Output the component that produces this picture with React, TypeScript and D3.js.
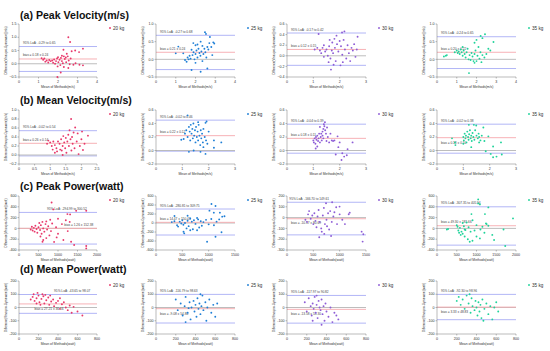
import * as d3 from "d3";

const LOADS = ["20 kg", "25 kg", "30 kg", "35 kg"];
const COLORS = ["#e8386b", "#1f7fd6", "#8d5cd6", "#1fd39a"];
const ROW_TITLES = [
  "(a) Peak Velocity(m/s)",
  "(b) Mean Velocity(m/s)",
  "(c) Peak Power(watt)",
  "(d) Mean Power(watt)",
];
const UNITS = ["m/s", "m/s", "watt", "watt"];

// x / y ticks per row, per load
const X_TICKS = [
  [[0, 1, 2, 3, 4], [0, 1, 2, 3, 4], [0, 1, 2, 3], [0, 1, 2, 3, 4]],
  [[0, 0.5, 1, 1.5, 2, 2.5], [0, 1, 2, 3], [0, 1, 2, 3], [0, 1, 2, 3]],
  [[0, 500, 1000, 1500, 2000], [0, 500, 1000, 1500], [0, 500, 1000, 1500], [0, 500, 1000, 1500, 2000]],
  [[0, 200, 400, 600, 800], [0, 200, 400, 600, 800], [0, 200, 400, 600, 800], [0, 200, 400, 600, 800]],
];
const Y_TICKS = [
  [[-0.5, 0, 0.5, 1, 1.5], [-0.5, 0, 0.5, 1], [-0.4, -0.2, 0, 0.2, 0.4, 0.6], [-0.5, 0, 0.5, 1]],
  [[-0.2, 0, 0.2, 0.4, 0.6, 0.8, 1], [-0.2, 0, 0.2, 0.4, 0.6], [-0.2, 0, 0.2, 0.4, 0.6], [-0.2, 0, 0.2, 0.4, 0.6]],
  [[-400, -200, 0, 200, 400, 600], [-600, -400, -200, 0, 200, 400, 600], [-300, -200, -100, 0, 100, 200], [-400, -200, 0, 200, 400, 600]],
  [[-200, -100, 0, 100, 200], [-200, -100, 0, 100, 200], [-200, -100, 0, 100, 200], [-200, -100, 0, 100, 200]],
];

const UPPER = [
  [0.65, 0.68, 0.43, 0.64],
  [0.54, 0.45, 0.39, 0.39],
  [296, 311, 142, 400],
  [98, 99, 91, 99],
];
const BIAS = [
  [0.18, 0.2, 0.12, 0.2],
  [0.26, 0.22, 0.18, 0.19],
  [1.26, 15, -10.57, 49.3],
  [27, -9, -14, 3],
];
const LOWER = [
  [-0.29, -0.29, -0.18, -0.26],
  [-0.02, -0.01, -0.04, -0.04],
  [-290, -267, -160, -310],
  [-44, -117, -118, -92],
];
const LOA_TEXT = [
  ["95% LoA: -0.29 to 0.65", "95% LoA: -0.27 to 0.68", "95% LoA: -0.17 to 0.42", "95% LoA: -0.24 to 0.65"],
  ["95% LoA: -0.02 to 0.54", "95% LoA: -0.02 to 0.46", "95% LoA: -0.04 to 0.39", "95% LoA: -0.02 to 0.38"],
  ["95% LoA: -294.99 to 300.52", "95% LoA: -280.81 to 309.75", "95% LoA: -166.70 to 149.61", "95% LoA: -307.35 to 405.94"],
  ["95% LoA: -43.65 to 98.07", "95% LoA: -116.79 to 98.63", "95% LoA: -117.97 to 90.82", "95% LoA: -92.30 to 98.96"],
];
const BIAS_TEXT = [
  ["bias = 0.18 ± 0.24", "bias = 0.21 ± 0.24", "bias = 0.12 ± 0.15", "bias = 0.20 ± 0.22"],
  ["bias = 0.26 ± 0.14", "bias = 0.22 ± 0.12", "bias = 0.18 ± 0.11", "bias = 0.18 ± 0.10"],
  ["bias = 1.26 ± 152.38", "bias = 14.47 ± 150.41", "bias = -10.57 ± 80.69", "bias = 49.30 ± 181.66"],
  ["bias = 27.21 ± 36.16", "bias = -9.08 ± 54.80", "bias = -13.58 ± 53.30", "bias = 3.33 ± 48.83"],
];

// [mean of methods, difference]
const A1 = [[2.53,1.0],[2.62,0.82],[2.28,0.53],[2.7,0.47],[2.88,0.5],[3.28,0.57],[3.08,0.44],[2.45,0.38],[2.2,0.3],[1.16,0.21],[1.24,0.15],[1.3,0.2],[1.35,0.08],[1.42,0.12],[1.5,0.05],[1.55,0.14],[1.62,0.1],[1.7,0.12],[1.75,0.04],[1.8,0.16],[1.85,0.0],[1.9,0.1],[1.95,0.2],[2.0,0.25],[2.02,0.06],[2.08,0.15],[2.12,-0.05],[2.15,0.22],[2.2,0.1],[2.25,0.02],[2.3,0.28],[2.35,0.18],[2.4,0.24],[2.42,0.06],[2.5,0.28],[2.55,0.12],[2.6,-0.02],[2.14,-0.33],[2.53,-0.16],[2.79,-0.04],[3.1,-0.04],[3.28,-0.06],[1.97,-0.5],[2.65,0.2],[2.9,0.02],[1.98,-0.1],[2.3,-0.12]];
const A2 = [[2.48,0.77],[2.53,0.72],[2.73,0.63],[2.9,0.48],[2.7,0.46],[2.26,0.5],[1.89,0.46],[2.0,0.4],[2.1,0.42],[2.35,0.38],[2.6,0.35],[2.8,0.35],[2.45,0.3],[1.8,0.27],[1.13,0.36],[1.0,0.17],[1.38,0.17],[1.47,-0.02],[1.55,-0.07],[1.6,0.05],[1.7,0.1],[1.75,0.02],[1.85,0.12],[1.9,0.2],[1.95,0.0],[2.0,0.15],[2.05,0.25],[2.1,0.05],[2.15,0.3],[2.2,0.18],[2.25,0.1],[2.3,0.22],[2.35,-0.05],[2.4,0.15],[2.5,0.2],[2.55,0.05],[2.65,0.28],[2.85,0.12],[2.95,0.45],[1.8,-0.3],[2.26,-0.35],[2.6,-0.26],[2.0,-0.1],[1.65,0.0]];
const A3 = [[1.2,0.41],[2.09,0.44],[2.18,0.46],[2.68,0.36],[1.67,-0.26],[1.77,-0.17],[2.03,-0.18],[1.05,0.12],[1.15,0.15],[1.25,0.1],[1.3,0.05],[1.35,0.15],[1.4,0.2],[1.45,0.08],[1.5,0.12],[1.55,0.0],[1.6,0.18],[1.62,0.3],[1.65,-0.05],[1.7,0.1],[1.72,0.25],[1.75,0.05],[1.8,0.32],[1.82,0.15],[1.85,-0.1],[1.9,0.22],[1.95,0.08],[2.0,0.28],[2.05,0.18],[2.1,0.02],[2.15,0.3],[2.2,0.12],[2.25,-0.05],[2.3,0.2],[2.35,0.05],[2.4,-0.1],[2.45,0.15],[2.5,0.1],[2.55,0.22],[2.6,-0.02],[2.65,0.12],[1.4,-0.02],[1.58,-0.12],[1.88,0.38],[2.12,-0.12]];
const A4 = [[2.43,0.71],[2.21,0.66],[2.3,0.6],[1.9,0.47],[2.86,0.49],[2.6,0.3],[0.35,0.08],[0.45,0.1],[0.5,0.12],[0.9,0.2],[1.0,0.25],[1.05,0.18],[1.1,0.22],[1.15,0.15],[1.2,0.28],[1.25,0.2],[1.3,0.1],[1.35,0.25],[1.4,0.15],[1.45,0.05],[1.5,0.2],[1.55,0.3],[1.6,0.0],[1.65,0.12],[1.7,-0.02],[1.75,0.18],[1.8,0.08],[1.85,-0.05],[1.9,0.15],[1.95,0.25],[2.0,-0.05],[2.05,0.1],[2.1,0.35],[2.15,0.02],[2.2,0.2],[2.25,-0.08],[2.3,0.12],[2.4,0.05],[2.5,0.15],[2.7,0.25],[1.62,-0.39],[1.9,-0.1],[2.0,0.55],[1.3,0.35]];

const B1 = [[1.67,0.8],[1.8,0.61],[2.02,0.52],[2.21,0.43],[0.94,0.32],[0.9,0.25],[1.0,0.28],[1.05,0.2],[1.08,0.12],[1.1,0.3],[1.15,0.22],[1.2,0.15],[1.22,0.08],[1.25,0.3],[1.3,0.25],[1.32,0.12],[1.35,0.35],[1.37,0.1],[1.4,0.2],[1.42,0.42],[1.45,0.28],[1.48,0.15],[1.5,0.38],[1.52,0.05],[1.55,0.3],[1.58,0.45],[1.6,0.2],[1.62,0.55],[1.65,0.35],[1.68,0.1],[1.7,0.4],[1.72,0.25],[1.75,0.5],[1.78,0.15],[1.85,0.3],[1.91,0.02],[1.95,0.2],[2.05,0.11],[2.0,0.35],[1.88,0.48],[1.4,0.0],[1.15,0.05],[2.1,0.25]];
const B2 = [[1.2,0.52],[1.92,0.43],[1.88,0.41],[0.96,0.16],[1.05,0.17],[1.43,0.0],[1.69,-0.02],[1.88,-0.05],[2.2,0.04],[2.48,0.12],[2.2,0.15],[1.1,0.25],[1.15,0.3],[1.2,0.2],[1.25,0.35],[1.28,0.28],[1.3,0.15],[1.32,0.38],[1.35,0.25],[1.38,0.32],[1.4,0.18],[1.42,0.4],[1.45,0.22],[1.48,0.3],[1.5,0.12],[1.52,0.35],[1.55,0.2],[1.58,0.28],[1.6,0.15],[1.62,0.38],[1.65,0.22],[1.68,0.08],[1.7,0.3],[1.72,0.18],[1.75,0.25],[1.78,0.12],[1.8,0.32],[1.85,0.2],[1.9,0.15],[1.95,0.1],[1.25,-0.02],[1.6,0.42],[1.8,0.05],[2.0,0.28]];
const B3 = [[1.44,0.42],[1.4,0.39],[1.42,0.36],[1.38,0.32],[1.25,0.35],[1.35,0.28],[1.3,0.25],[1.09,0.03],[1.0,0.15],[1.02,0.12],[1.05,0.18],[1.08,0.1],[1.1,0.2],[1.12,0.16],[1.15,0.22],[1.18,0.14],[1.2,0.18],[1.22,0.25],[1.25,0.12],[1.28,0.2],[1.32,0.15],[1.35,0.22],[1.38,0.18],[1.45,0.3],[1.48,0.25],[1.5,0.14],[1.55,0.2],[1.6,0.12],[1.65,0.25],[1.7,0.15],[1.75,0.14],[1.8,0.15],[1.92,0.21],[1.95,0.05],[2.0,0.12],[2.49,0.12],[1.85,-0.06],[2.17,-0.09],[2.27,-0.07],[2.07,-0.14],[2.3,0.02],[2.1,-0.04],[1.52,0.34],[1.15,0.06]];
const B4 = [[1.21,0.38],[1.4,0.38],[1.49,0.37],[1.76,0.34],[0.57,0.18],[0.68,0.12],[0.7,0.08],[2.04,-0.05],[2.13,-0.1],[2.26,-0.09],[2.46,-0.06],[2.43,0.12],[2.13,0.06],[1.95,0.21],[1.85,-0.01],[1.0,0.2],[1.02,0.15],[1.05,0.25],[1.08,0.18],[1.1,0.22],[1.12,0.12],[1.15,0.28],[1.18,0.2],[1.2,0.16],[1.22,0.24],[1.25,0.3],[1.28,0.18],[1.3,0.22],[1.32,0.14],[1.35,0.26],[1.38,0.2],[1.42,0.16],[1.45,0.3],[1.5,0.22],[1.55,0.18],[1.58,0.25],[1.6,0.2],[1.65,0.15],[1.7,0.22],[1.3,0.05],[1.0,0.1],[1.8,0.14],[1.6,0.12]];

const C1 = [[836,481],[880,352],[1241,265],[1310,259],[1466,327],[1724,327],[1724,-327],[1724,-370],[1414,-308],[1336,-247],[1138,-216],[966,-167],[621,-216],[603,-247],[300,-20],[330,30],[350,-40],[380,10],[400,-60],[420,50],[450,-10],[470,-80],[500,20],[520,100],[540,-30],[560,60],[580,-100],[600,120],[620,0],[650,-60],[680,80],[700,130],[720,-20],[750,40],[780,-130],[800,160],[820,-50],[850,90],[900,-250],[950,20],[1000,-100],[1100,80],[1200,150],[1250,-50],[1300,120],[1000,180],[700,-180],[550,-150]];
const C2 = [[1053,422],[1130,378],[1015,274],[1098,230],[1213,230],[1257,141],[970,-415],[1130,-304],[1244,-207],[523,-193],[536,-230],[351,155],[300,20],[350,40],[400,-50],[420,-80],[450,30],[480,-10],[500,60],[520,-40],[550,0],[580,-120],[600,50],[620,-70],[650,100],[680,30],[700,-140],[720,60],[750,-20],[780,110],[800,80],[820,-100],[850,40],[870,-60],[900,20],[950,70],[1000,-30],[1050,90],[1100,-50],[1150,30],[1200,80],[780,-160],[650,-160],[1300,150],[600,160]];
const C3 = [[857,142],[741,133],[998,102],[934,96],[1172,31],[1191,46],[1417,-130],[1449,-154],[1436,-222],[612,-182],[837,-170],[708,-151],[350,-20],[380,-40],[400,30],[420,60],[450,-10],[480,20],[500,-60],[520,40],[540,-30],[560,-90],[580,10],[600,70],[620,-40],[650,-100],[680,20],[700,90],[720,-60],[750,-20],[780,40],[800,-110],[820,60],[850,-40],[880,10],[900,50],[950,-60],[1000,30],[1050,-20],[1100,-60],[660,-130],[760,-80]];
const C4 = [[1043,537],[1043,463],[1086,444],[1300,389],[1214,265],[872,265],[1924,185],[1240,93],[1257,80],[1684,-19],[1445,-216],[1727,-327],[829,-247],[898,-228],[1086,-185],[250,-20],[280,-10],[500,60],[520,30],[540,-40],[560,-80],[580,10],[600,-120],[620,-60],[650,-100],[680,40],[700,-150],[720,-30],[750,110],[780,-200],[800,20],[850,-60],[900,150],[950,-40],[1000,60],[1100,-20],[1150,30],[1200,-80],[1300,50],[1400,-120],[700,-20],[650,100],[1000,-150]];

const D1 = [[120,60],[140,80],[160,50],[180,70],[200,90],[210,40],[230,65],[250,85],[260,30],[280,55],[300,75],[310,20],[330,45],[350,60],[360,10],[380,35],[400,50],[420,-10],[440,25],[460,40],[480,0],[500,-20],[520,15],[540,-40],[560,5],[600,-30],[650,-60],[150,100],[190,110],[240,100],[270,95],[320,90],[220,20],[180,30],[420,70]];
const D2 = [[200,60],[220,-20],[250,30],[270,-60],[290,10],[300,80],[320,-40],[340,40],[350,-90],[360,0],[380,50],[390,-30],[400,20],[410,-70],[420,70],[430,-10],[440,30],[450,-50],[460,10],[470,90],[480,-20],[500,40],[510,-100],[520,0],[540,60],[560,-40],[580,20],[600,-70],[620,30],[300,-110],[450,100],[330,-5]];
const D3 = [[180,40],[200,-30],[220,70],[240,10],[250,-60],[260,30],[270,-10],[280,80],[290,-40],[300,20],[310,-80],[320,50],[330,0],[340,-20],[350,60],[360,-50],[370,10],[380,-100],[390,30],[400,-30],[420,-70],[440,0],[460,-110],[480,-40],[500,-60],[520,-90],[300,90],[260,-100],[350,-130]];
const D4 = [[200,50],[220,80],[240,20],[260,60],[280,-10],[300,90],[320,30],[340,-40],[350,70],[360,10],[380,-20],[390,50],[400,0],[410,-60],[420,40],[430,-30],[440,20],[450,-80],[460,60],[480,-10],[500,30],[520,-50],[540,10],[560,-90],[580,0],[600,40],[620,-30],[330,100],[470,-100]];

const POINTS = [
  [A1, A2, A3, A4],
  [B1, B2, B3, B4],
  [C1, C2, C3, C4],
  [D1, D2, D3, D4],
];

// layout (pixels)
const COL_X = [[19, 97], [156, 235], [287, 366], [437, 516]];
const ROW_Y = [[24, 77], [110, 164], [196, 250], [281, 334]];
const TITLE_Y = [19, 104, 190, 273];
// label placement: [loa x fraction, loa dy, bias x fraction, bias dy]
const LABEL_POS = [
  [[0.05, -2.5, 0.05, -2.5], [0.05, -2.5, 0.05, -2.5], [0.05, -2.5, 0.05, -2.5], [0.05, -2.5, 0.05, -2.5]],
  [[0.05, -2.5, 0.05, -2.5], [0.05, -2.5, 0.05, -2.5], [0.05, -2.5, 0.05, -2.5], [0.05, -2.5, 0.05, 6]],
  [[0.36, -2.5, 0.58, -2.5], [0.05, -2.5, 0.05, -2.5], [0.03, -2.5, 0.05, 5], [0.05, -2.5, 0.05, -2.5]],
  [[0.45, -2.5, 0.2, 6], [0.05, -2.5, 0.05, 6], [0.05, -2.5, 0.05, 6], [0.05, -2.5, 0.05, 6]],
];

const FONT = "'Liberation Sans', Arial, sans-serif";
const fmtV = d3.format(".1f");

function Panel({ r, c }: { r: number; c: number }) {
  const [x0, x1] = COL_X[c];
  const [y0, y1] = ROW_Y[r];
  const xt = X_TICKS[r][c];
  const yt = Y_TICKS[r][c];
  const x = d3.scaleLinear().domain(d3.extent(xt) as [number, number]).range([x0, x1]);
  const y = d3.scaleLinear().domain(d3.extent(yt) as [number, number]).range([y1, y0]);
  const yFmt = r < 2 ? (v: number) => fmtV(v) : (v: number) => String(v);
  const col = COLORS[c];
  const lp = LABEL_POS[r][c];
  const w = x1 - x0;
  const lines = [
    { v: UPPER[r][c], color: "#a9aef5" },
    { v: LOWER[r][c], color: "#a9aef5" },
    { v: 0, color: "#b5b5b5" },
    { v: BIAS[r][c], color: "#f6a9ae" },
  ];
  return (
    <g>
      {lines.map((l, i) => (
        <line key={i} x1={x0} x2={x1} y1={y(l.v)} y2={y(l.v)} stroke={l.color} strokeWidth={0.9} />
      ))}
      {/* axes */}
      <line x1={x0} x2={x0} y1={y0} y2={y1} stroke="#777" strokeWidth={0.5} />
      <line x1={x0} x2={x1} y1={y1} y2={y1} stroke="#777" strokeWidth={0.5} />
      {yt.map((v) => (
        <g key={"y" + v}>
          <line x1={x0 - 1.5} x2={x0} y1={y(v)} y2={y(v)} stroke="#777" strokeWidth={0.5} />
          <text x={x0 - 2.5} y={y(v) + 1.2} fontSize={3.6} textAnchor="end" fill="#333">
            {yFmt(v)}
          </text>
        </g>
      ))}
      {xt.map((v) => (
        <g key={"x" + v}>
          <line x1={x(v)} x2={x(v)} y1={y1} y2={y1 + 1.5} stroke="#777" strokeWidth={0.5} />
          <text x={x(v)} y={y1 + 5.5} fontSize={3.6} textAnchor="middle" fill="#333">
            {String(v)}
          </text>
        </g>
      ))}
      <text x={(x0 + x1) / 2} y={y1 + 11} fontSize={3.4} textAnchor="middle" fill="#333">
        {`Mean of Methods(${UNITS[r]})`}
      </text>
      <text
        transform={`translate(${x0 - 12},${(y0 + y1) / 2}) rotate(-90)`}
        fontSize={2.9}
        textAnchor="middle"
        fill="#333"
      >
        {`Difference(Vmaxpro-Gymaware)(${UNITS[r]})`}
      </text>
      {/* stats labels */}
      <text x={x0 + w * lp[0]} y={y(UPPER[r][c]) + lp[1]} fontSize={3.2} fill="#444">
        {LOA_TEXT[r][c]}
      </text>
      <text x={x0 + w * lp[2]} y={y(BIAS[r][c]) + lp[3]} fontSize={3.2} fill="#444">
        {BIAS_TEXT[r][c]}
      </text>
      {/* points */}
      {POINTS[r][c].map((p, i) => (
        <circle key={i} cx={x(p[0])} cy={y(p[1])} r={0.95} fill={col} />
      ))}
      {/* legend */}
      <circle cx={x1 + 13} cy={y0 + 4} r={0.95} fill={col} />
      <text x={x1 + 16} y={y0 + 5.6} fontSize={4.6} fill="#333">
        {LOADS[c]}
      </text>
    </g>
  );
}

export default function App() {
  return (
    <svg
      width={550}
      height={351}
      viewBox="0 0 550 351"
      style={{ position: "absolute", left: 0, top: 0, background: "#fff", fontFamily: FONT }}
    >
      <rect width={550} height={351} fill="#fff" />
      {ROW_TITLES.map((t, r) => (
        <text key={t} x={20} y={TITLE_Y[r]} fontSize={10.6} fontWeight="bold" fill="#111">
          {t}
        </text>
      ))}
      {ROW_TITLES.map((_, r) =>
        LOADS.map((_, c) => <Panel key={r + "-" + c} r={r} c={c} />)
      )}
    </svg>
  );
}
